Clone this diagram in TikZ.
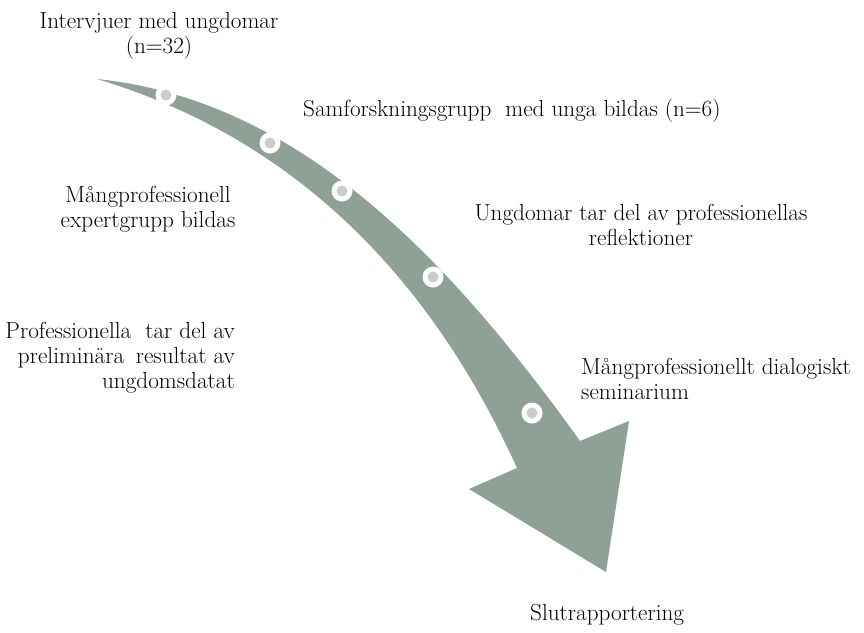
\documentclass[tikz,border=0pt]{standalone}
\definecolor{arrowgreen}{RGB}{143,161,151}
\definecolor{dotin}{RGB}{200,206,203}
\begin{document}
\begin{tikzpicture}[x=1pt,y=-1pt,
  lbl/.style={font=\fontsize{23.2}{25}\selectfont, inner sep=0pt, text=black},
  dot/.style={circle, fill=white, minimum size=21pt, inner sep=0pt,
    path picture={\fill[dotin] (path picture bounding box.center) circle (5.5pt);}}]
\useasboundingbox (0,0) rectangle (864,632);
% arrow outline points
\coordinate (tail) at (97,79);
\coordinate (nr) at (580,441);
\coordinate (hr) at (629,421);
\coordinate (hb) at (606,572);
\coordinate (hl) at (469,489);
\coordinate (nl) at (517,468);
\fill[arrowgreen] (tail) .. controls (300,100) and (450,260) .. (nr)
  -- (hr) -- (hb) -- (hl) -- (nl)
  .. controls (442.5,304) and (317,145) .. (tail) -- cycle;
% milestones
\node[dot] (c1) at (166,95) {};
\node[dot] (c2) at (270,143) {};
\node[dot] (c3) at (342,191) {};
\node[dot] (c4) at (433,277) {};
\node[dot] (c5) at (532,413) {};
% labels (anchor base = baseline of the last line)
\node[lbl, align=center, anchor=base] (t1) at (159,53.5) {Intervjuer med ungdomar\\(n=32)};
\node[lbl, anchor=base west] (t2) at (303,116) {Samforskningsgrupp\hspace{0.3em} med unga bildas (n=6)};
\node[lbl, align=center, anchor=base] (t3) at (148,227) {Mångprofessionell\\expertgrupp bildas};
\node[lbl, align=center, anchor=base] (t4) at (641,245) {Ungdomar tar del av professionellas\\reflektioner};
\node[lbl, align=left, anchor=base west] (t5) at (581,399) {Mångprofessionellt dialogiskt\\seminarium};
\node[lbl, align=right, anchor=base east] (t6) at (235,388) {Professionella\hspace{0.3em} tar del av\\preliminära\hspace{0.2em} resultat av\\ungdomsdatat};
\node[lbl, anchor=base west] (t7) at (530,620) {Slutrapportering};
\end{tikzpicture}
\end{document}
